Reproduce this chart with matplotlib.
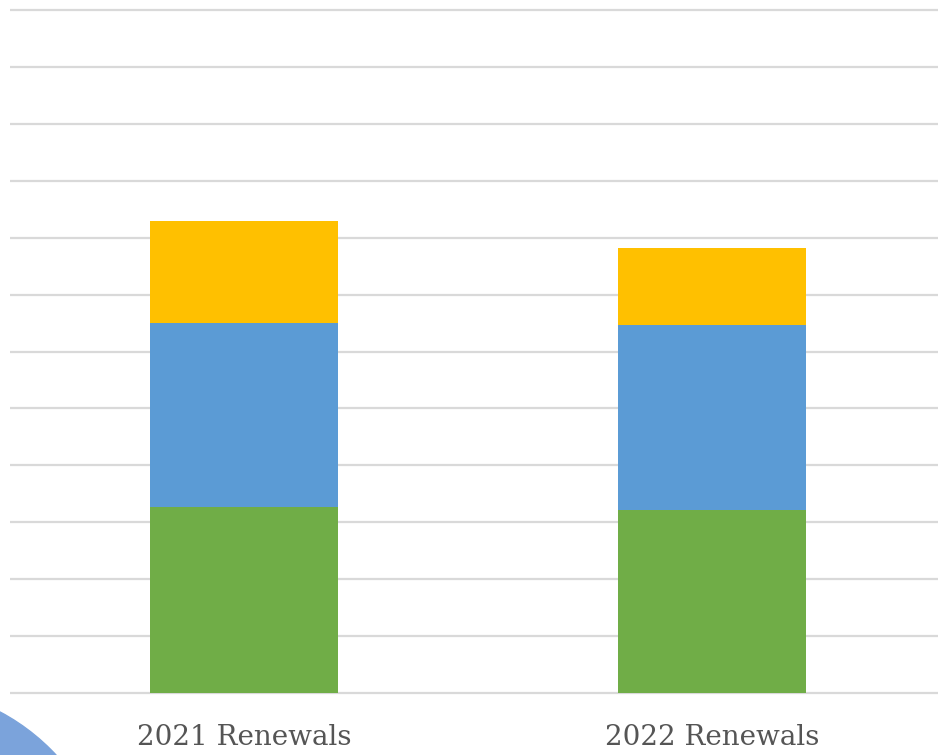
import matplotlib
matplotlib.use("Agg")
import matplotlib.pyplot as plt
from matplotlib.patches import Circle
from matplotlib.transforms import IdentityTransform

categories = ["2021 Renewals", "2022 Renewals"]
green_vals = [163, 161]
blue_vals = [162, 162]
yellow_vals = [90, 68]
grid_step = 50
y_max = 600

W, H = 938, 755
fig = plt.figure(figsize=(W / 100, H / 100), dpi=100)
fig.patch.set_facecolor("white")

# axes: baseline at y=693 px, top gridline at y=10 px, left at x=10
px_per_unit = (693 - 10) / y_max
extra = 4
top_px = 10 - extra * px_per_unit
bot_px = 693 + extra * px_per_unit
ax = fig.add_axes([10 / W, (H - bot_px) / H, (W - 10) / W, (bot_px - top_px) / H])
ax.set_ylim(-extra, y_max + extra)
ax.set_xlim(-0.5, 1.483)

x = list(range(len(categories)))
width = 0.4
bottom2 = [g + b for g, b in zip(green_vals, blue_vals)]
ax.bar(x, green_vals, width, color="#70AD47", zorder=3)
ax.bar(x, blue_vals, width, bottom=green_vals, color="#5B9BD5", zorder=3)
ax.bar(x, yellow_vals, width, bottom=bottom2, color="#FFC000", zorder=3)

ax.set_yticks(range(0, y_max + 1, grid_step))
ax.yaxis.grid(True, color="#D9D9D9", linewidth=1.6, zorder=0)
ax.tick_params(axis="y", left=False, labelleft=False)
ax.set_xticks(x)
ax.set_xticklabels(categories, fontsize=20, color="#555555", family="DejaVu Serif")
ax.tick_params(axis="x", length=0, pad=19)
for s in ax.spines.values():
    s.set_visible(False)

# decorative circle in lower-left corner (pixel coordinates)
circ = Circle((-100, H - 900), 213, transform=IdentityTransform(),
              color="#7BA3DB", zorder=0)
fig.patches.append(circ)

fig.savefig("out.png", dpi=100)
